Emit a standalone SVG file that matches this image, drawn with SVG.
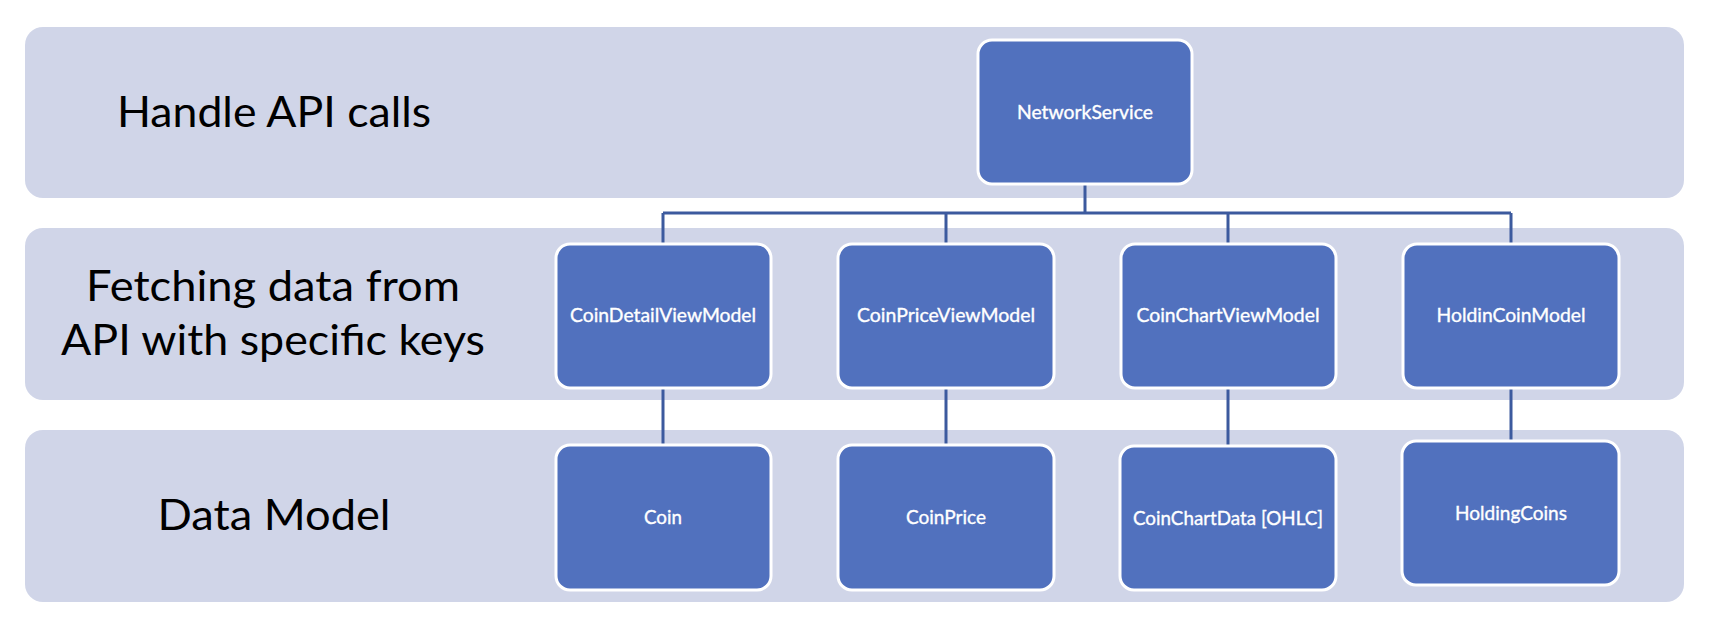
<svg xmlns="http://www.w3.org/2000/svg" width="1718" height="630" viewBox="0 0 1718 630">
<style>
.band{fill:#D0D5E8;}
.box{fill:#5171BE;stroke:#FFFFFF;stroke-width:3;}
.lbl{font-family:Lato,"Open Sans","Liberation Sans",sans-serif;font-size:43px;fill:#000000;text-anchor:middle;}
.nt{font-family:Lato,"Open Sans","Liberation Sans",sans-serif;font-size:19px;fill:#FFFFFF;stroke:#FFFFFF;stroke-width:0.35;text-anchor:middle;}
.con{fill:none;stroke:#3C5A9E;stroke-width:3;}
</style>
<rect width="1718" height="630" fill="#FFFFFF"/>
<g id="bands">
<rect class="band" x="25" y="27" width="1659" height="171" rx="18"/>
<rect class="band" x="25" y="228" width="1659" height="172" rx="18"/>
<rect class="band" x="25" y="430" width="1659" height="172" rx="18"/>
<text class="lbl" x="274" y="127" textLength="314" lengthAdjust="spacingAndGlyphs">Handle API calls</text>
<text class="lbl" x="273" y="301" textLength="374" lengthAdjust="spacingAndGlyphs">Fetching data from</text>
<text class="lbl" x="273" y="355" textLength="424" lengthAdjust="spacingAndGlyphs">API with specific keys</text>
<text class="lbl" x="274" y="530" textLength="233" lengthAdjust="spacingAndGlyphs">Data Model</text>
</g>
<g id="connectors">
<path class="con" d="M1085,184 V213 M663,213 H1511 M663,213 V244 M946,213 V244 M1228,213 V244 M1511,213 V244"/>
<path class="con" d="M663,388 V445 M946,388 V445 M1228,388 V446 M1511,388 V441"/>
</g>
<g id="NetworkService">
<rect class="box" x="978" y="40" width="214" height="144" rx="14"/>
<text class="nt" x="1085" y="119" textLength="136" lengthAdjust="spacingAndGlyphs">NetworkService</text>
</g>
<g id="CoinDetailViewModel">
<rect class="box" x="556" y="244" width="215" height="144" rx="14"/>
<text class="nt" x="663" y="322" textLength="186" lengthAdjust="spacingAndGlyphs">CoinDetailViewModel</text>
</g>
<g id="CoinPriceViewModel">
<rect class="box" x="838" y="244" width="216" height="144" rx="14"/>
<text class="nt" x="946" y="322" textLength="178" lengthAdjust="spacingAndGlyphs">CoinPriceViewModel</text>
</g>
<g id="CoinChartViewModel">
<rect class="box" x="1121" y="244" width="215" height="144" rx="14"/>
<text class="nt" x="1228" y="322" textLength="183" lengthAdjust="spacingAndGlyphs">CoinChartViewModel</text>
</g>
<g id="HoldinCoinModel">
<rect class="box" x="1403" y="244" width="216" height="144" rx="14"/>
<text class="nt" x="1511" y="322" textLength="149" lengthAdjust="spacingAndGlyphs">HoldinCoinModel</text>
</g>
<g id="Coin">
<rect class="box" x="556" y="445" width="215" height="145" rx="14"/>
<text class="nt" x="663" y="524" textLength="38" lengthAdjust="spacingAndGlyphs">Coin</text>
</g>
<g id="CoinPrice">
<rect class="box" x="838" y="445" width="216" height="145" rx="14"/>
<text class="nt" x="946" y="524" textLength="80" lengthAdjust="spacingAndGlyphs">CoinPrice</text>
</g>
<g id="CoinChartData">
<rect class="box" x="1120" y="446" width="216" height="144" rx="14"/>
<text class="nt" x="1228" y="525" textLength="190" lengthAdjust="spacingAndGlyphs">CoinChartData [OHLC]</text>
</g>
<g id="HoldingCoins">
<rect class="box" x="1402" y="441" width="217" height="144" rx="14"/>
<text class="nt" x="1511" y="520" textLength="112" lengthAdjust="spacingAndGlyphs">HoldingCoins</text>
</g>
</svg>
